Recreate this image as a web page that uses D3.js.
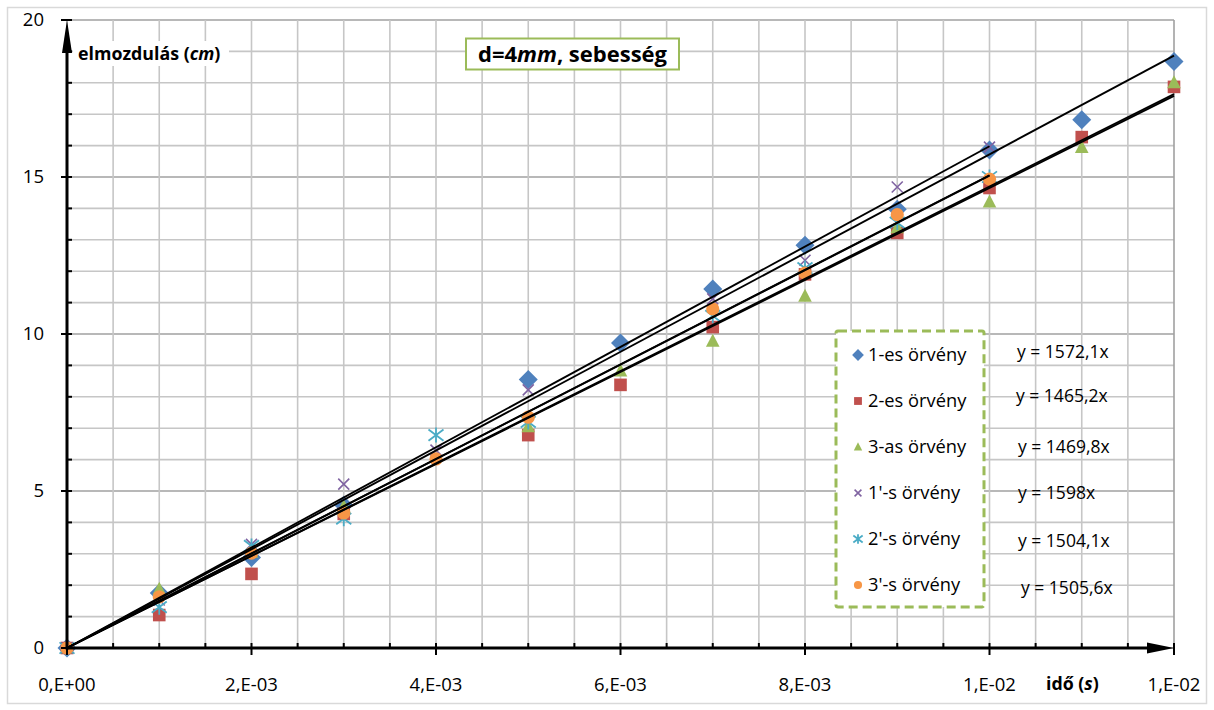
<!DOCTYPE html>
<html><head><meta charset="utf-8">
<script src="https://cdn.jsdelivr.net/npm/d3@7"></script>
<style>
html,body{margin:0;padding:0;background:#fff;}
svg text{font-family:"Open Sans",sans-serif;}
</style>
</head><body>
<svg id="chart" width="1214" height="710"></svg>
<script>
// ---- data ----
const seriesNames = ["1-es örvény","2-es örvény","3-as örvény","1'-s örvény","2'-s örvény","3'-s örvény"];
const xMain  = [0,0.001,0.002,0.003,0.005,0.006,0.007,0.008,0.009,0.010,0.011,0.012];
const xPrime = [0,0.001,0.002,0.003,0.004,0.005,0.007,0.008,0.009,0.010];
const s1 = [0,1.75,2.88,4.55,8.55,9.71,11.43,12.83,13.97,15.86,16.82,18.68];
const s2 = [0,1.05,2.36,4.27,6.78,8.38,10.22,11.90,13.22,14.65,16.27,17.87];
const s3 = [0,1.87,3.05,4.50,7.05,8.82,9.77,11.20,13.38,14.20,15.94,18.00];
const p1 = [0,1.53,3.30,5.22,6.30,8.22,11.12,12.35,14.68,15.95];
const p2 = [0,1.30,3.25,4.12,6.78,7.20,10.58,12.10,13.55,15.00];
const p3 = [0,1.63,3.02,4.30,6.02,7.35,10.80,11.94,13.80,14.93];
const slopes = [1572.1,1465.2,1469.8,1598,1504.1,1505.6];
const trendEnd = [0.012,0.012,0.012,0.010,0.010,0.010];
const equations = ["y = 1572,1x","y = 1465,2x","y = 1469,8x","y = 1598x","y = 1504,1x","y = 1505,6x"];
const xTickVals = [0,0.002,0.004,0.006,0.008,0.010,0.012];
const xTickLabels = ["0,E+00","2,E-03","4,E-03","6,E-03","8,E-03","1,E-02","1,E-02"];
const yTickVals = [0,5,10,15,20];
const colors = ["#4f81bd","#c0504d","#9bbb59","#8064a2","#4bacc6","#f79646"];
const markers = ["diamond","square","triangle","x","star","circle"];

const series = [
  {x:xMain,y:s1},{x:xMain,y:s2},{x:xMain,y:s3},
  {x:xPrime,y:p1},{x:xPrime,y:p2},{x:xPrime,y:p3}
];

// ---- layout ----
const svg = d3.select("#chart");
const X = d3.scaleLinear().domain([0,0.012]).range([67,1174]);
const Y = d3.scaleLinear().domain([0,20]).range([648,20]);

// chart border
svg.append("rect").attr("x",7.5).attr("y",7.5).attr("width",1199).attr("height",696)
  .attr("fill","#fff").attr("stroke","#d9d9d9").attr("stroke-width",1.5);

// grid
const g = svg.append("g");
d3.range(0,20.001,1).forEach(v=>{
  g.append("line").attr("x1",X(0)).attr("x2",X(0.012)).attr("y1",Y(v)).attr("y2",Y(v))
   .attr("stroke", v%5===0 ? "#a0a0a0" : "#c6c6c6").attr("stroke-width",1.6);
});
d3.range(0,0.01201,0.0005).forEach(v=>{
  const last = Math.abs(v-0.012)<1e-9;
  g.append("line").attr("x1",X(v)).attr("x2",X(v)).attr("y1",Y(0)).attr("y2",Y(20))
   .attr("stroke", last ? "#a0a0a0" : "#c6c6c6").attr("stroke-width",1.6);
});

// marker symbol generator
function drawMarker(sel, type, color, cx, cy, s){
  s = s||1;
  if(type==="diamond"){
    sel.append("path").attr("d",`M${cx},${cy-9.5*s}L${cx+9.5*s},${cy}L${cx},${cy+9.5*s}L${cx-9.5*s},${cy}Z`).attr("fill",color);
  } else if(type==="square"){
    sel.append("rect").attr("x",cx-6.3*s).attr("y",cy-6.3*s).attr("width",12.6*s).attr("height",12.6*s).attr("fill",color);
  } else if(type==="triangle"){
    sel.append("path").attr("d",`M${cx},${cy-7.5*s}L${cx+6.8*s},${cy+5.5*s}L${cx-6.8*s},${cy+5.5*s}Z`).attr("fill",color);
  } else if(type==="circle"){
    sel.append("circle").attr("cx",cx).attr("cy",cy).attr("r",6.6*s).attr("fill",color);
  } else if(type==="x"){
    const r=5.5*s;
    sel.append("path").attr("d",`M${cx-r},${cy-r}L${cx+r},${cy+r}M${cx-r},${cy+r}L${cx+r},${cy-r}`)
      .attr("stroke",color).attr("stroke-width",1.6).attr("fill","none");
  } else if(type==="star"){
    const r=7.5*s;
    sel.append("path").attr("d",`M${cx-r},${cy-r*0.75}L${cx+r},${cy+r*0.75}M${cx-r},${cy+r*0.75}L${cx+r},${cy-r*0.75}M${cx},${cy-r}L${cx},${cy+r}`)
      .attr("stroke",color).attr("stroke-width",1.8).attr("fill","none");
  }
}

// points
const pts = svg.append("g");
series.forEach((s,i)=>{
  s.x.forEach((xv,j)=>{
    drawMarker(pts, markers[i], colors[i], X(xv), Y(s.y[j]), 1);
  });
});

// trend lines
const tl = svg.append("g");
slopes.forEach((k,i)=>{
  tl.append("line").attr("x1",X(0)).attr("y1",Y(0)).attr("x2",X(trendEnd[i])).attr("y2",Y(k*trendEnd[i]))
    .attr("stroke","#000").attr("stroke-width",1.9);
});

// axes
const ax = svg.append("g");
ax.append("line").attr("x1",X(0)).attr("x2",X(0.012)-20).attr("y1",Y(0)).attr("y2",Y(0)).attr("stroke","#000").attr("stroke-width",3);
ax.append("path").attr("d",`M${X(0.012)},${Y(0)}L${X(0.012)-27},${Y(0)-5.5}L${X(0.012)-27},${Y(0)+5.5}Z`).attr("fill","#000");
ax.append("line").attr("x1",X(0)).attr("x2",X(0)).attr("y1",Y(0)+1.5).attr("y2",Y(20)+20).attr("stroke","#000").attr("stroke-width",3);
ax.append("path").attr("d",`M${X(0)},${Y(20)}L${X(0)-5},${Y(20)+33}L${X(0)+5},${Y(20)+33}Z`).attr("fill","#000");

// y ticks
d3.range(0,20.001,1).forEach(v=>{
  const major = v%5===0;
  ax.append("line").attr("x1",X(0)-(major?6:0)).attr("x2",X(0)+5).attr("y1",Y(v)).attr("y2",Y(v))
    .attr("stroke","#000").attr("stroke-width",2);
});
// x ticks
d3.range(0,0.01201,0.0005).forEach(v=>{
  const major = xTickVals.some(t=>Math.abs(t-v)<1e-9);
  ax.append("line").attr("x1",X(v)).attr("x2",X(v)).attr("y1",Y(0)-5).attr("y2",Y(0)+(major?7:0))
    .attr("stroke","#000").attr("stroke-width",2);
});

// tick labels
yTickVals.forEach(v=>{
  svg.append("text").attr("x",44).attr("y",Y(v)).attr("dy","0.35em").attr("text-anchor","end")
    .attr("font-size",18.5).attr("fill","#000").text(String(v));
});
xTickVals.forEach((v,i)=>{
  svg.append("text").attr("x",X(v)).attr("y",691).attr("text-anchor","middle")
    .attr("font-size",18.5).attr("fill","#000").text(xTickLabels[i]);
});

// y axis title with white background
svg.append("rect").attr("x",73).attr("y",41).attr("width",156).attr("height",25).attr("fill","#fff");
const yt = svg.append("text").attr("x",78).attr("y",60).attr("font-size",17.8).attr("font-weight","bold").attr("fill","#000");
yt.append("tspan").text("elmozdulás (");
yt.append("tspan").attr("font-style","italic").text("cm");
yt.append("tspan").text(")");

// x axis title
const xt = svg.append("text").attr("x",1046).attr("y",690).attr("font-size",17.8).attr("font-weight","bold").attr("fill","#000");
xt.append("tspan").text("idő (");
xt.append("tspan").attr("font-style","italic").text("s");
xt.append("tspan").text(")");

// title box
svg.append("rect").attr("x",466).attr("y",38.5).attr("width",213).attr("height",31).attr("fill","#fff")
  .attr("stroke","#9bbb59").attr("stroke-width",2);
const tt = svg.append("text").attr("x",572.5).attr("y",62).attr("text-anchor","middle").attr("font-size",22).attr("font-weight","bold").attr("fill","#000");
tt.append("tspan").text("d=4");
tt.append("tspan").attr("font-style","italic").text("mm");
tt.append("tspan").text(", sebesség");

// legend
svg.append("rect").attr("x",836).attr("y",331).attr("width",148).attr("height",276).attr("rx",2)
  .attr("fill","#fff").attr("stroke","#9bbb59").attr("stroke-width",3).attr("stroke-dasharray","9,5");
const legY0 = 355, legStep = 46;
seriesNames.forEach((n,i)=>{
  const cy = legY0 + i*legStep;
  drawMarker(svg, markers[i], colors[i], 858, cy, 0.62);
  svg.append("text").attr("x",868).attr("y",cy).attr("dy","0.35em").attr("font-size",18.3).attr("fill","#000").text(n);
});

// equation labels
const eqDx = [0,-1,1,1,1,4];
const eqDy = [-3,-5,0,0,2,3];
equations.forEach((e,i)=>{
  svg.append("text").attr("x",1017+eqDx[i]).attr("y",legY0 + i*legStep + eqDy[i]).attr("dy","0.35em")
    .attr("font-size",17.5).attr("fill","#000").text(e);
});
</script>
</body></html>
